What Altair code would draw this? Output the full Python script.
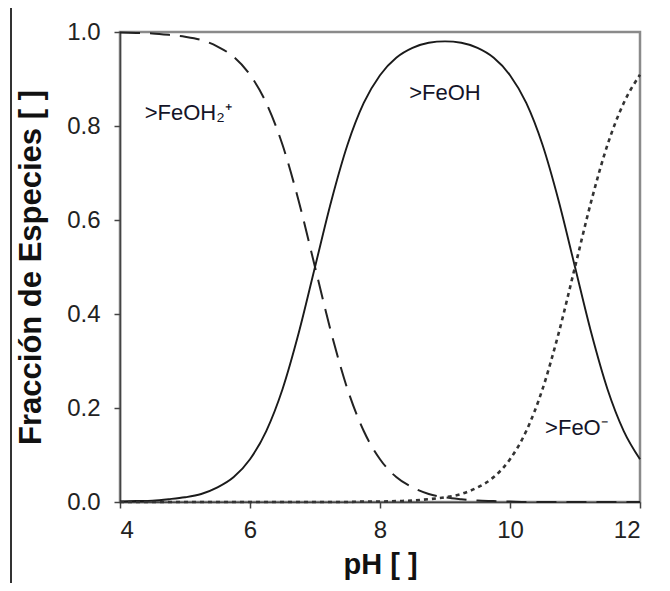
import altair as alt
import pandas as pd

ph = [4.0, 4.25, 4.5, 4.75, 5.0, 5.25, 5.5, 5.75, 6.0, 6.25, 6.5, 6.75, 7.0,
      7.25, 7.5, 7.75, 8.0, 8.25, 8.5, 8.75, 9.0, 9.25, 9.5, 9.75, 10.0,
      10.25, 10.5, 10.75, 11.0, 11.25, 11.5, 11.75, 12.0]

feoh2 = [0.999, 0.998, 0.997, 0.994, 0.990, 0.983, 0.969, 0.947, 0.909, 0.849, 0.760, 0.640, 0.500,
         0.360, 0.240, 0.151, 0.091, 0.053, 0.031, 0.017, 0.010, 0.006, 0.003, 0.002, 0.001,
         0.000, 0.000, 0.000, 0.000, 0.000, 0.000, 0.000, 0.000]

feoh = [0.001, 0.002, 0.003, 0.006, 0.010, 0.017, 0.031, 0.053, 0.091, 0.151, 0.240, 0.360, 0.500,
        0.640, 0.760, 0.849, 0.908, 0.945, 0.966, 0.977, 0.980, 0.977, 0.966, 0.945, 0.908,
        0.849, 0.760, 0.640, 0.500, 0.360, 0.240, 0.151, 0.091]

feo = [0.000, 0.000, 0.000, 0.000, 0.000, 0.000, 0.000, 0.000, 0.000, 0.000, 0.000, 0.000, 0.000,
       0.000, 0.000, 0.001, 0.001, 0.002, 0.003, 0.006, 0.010, 0.017, 0.031, 0.053, 0.091,
       0.151, 0.240, 0.360, 0.500, 0.640, 0.760, 0.849, 0.909]

label_text = [">FeOH\u2082\u207a", ">FeOH", ">FeO\u207b"]
label_x = [4.38, 9.0, 10.54]
label_y = [0.828, 0.87, 0.157]
label_align = ["left", "center", "left"]

x_ticks = [4, 6, 8, 10, 12]
y_ticks = [0.0, 0.2, 0.4, 0.6, 0.8, 1.0]

FONT = "Liberation Sans"

df = pd.DataFrame({"pH": ph, "FeOH2": feoh2, "FeOH": feoh, "FeO": feo})
lab = pd.DataFrame({"t": label_text, "x": label_x, "y": label_y, "a": label_align})

xs = alt.Scale(domain=[4, 12], nice=False, zero=False)
ys = alt.Scale(domain=[0, 1], nice=False)

xenc = alt.X("pH:Q", scale=xs,
             axis=alt.Axis(title="pH [ ]", values=x_ticks, format="d", titlePadding=8,
                           titleFontSize=29, labelPadding=10))
base = alt.Chart(df)

dashed = base.mark_line(color="#222", strokeWidth=2, strokeDash=[20, 10], interpolate="monotone").encode(
    x=xenc,
    y=alt.Y("FeOH2:Q", scale=ys,
            axis=alt.Axis(title="Fracción de Especies [ ]", values=y_ticks, format=".1f",
                          titlePadding=19, titleFontSize=31, labelPadding=14)),
)
solid = base.mark_line(color="#1a1a1a", strokeWidth=1.9, interpolate="monotone").encode(
    x=alt.X("pH:Q", scale=xs), y=alt.Y("FeOH:Q", scale=ys)
)
dotted = base.mark_line(color="#333", strokeWidth=2.6, strokeDash=[4, 4], interpolate="monotone").encode(
    x=alt.X("pH:Q", scale=xs), y=alt.Y("FeO:Q", scale=ys)
)

labels_left = alt.Chart(lab).transform_filter(alt.datum.a == "left").mark_text(
    align="left", baseline="middle", font=FONT, fontSize=22, color="#141428"
).encode(x=alt.X("x:Q", scale=xs), y=alt.Y("y:Q", scale=ys), text="t:N")
labels_center = alt.Chart(lab).transform_filter(alt.datum.a == "center").mark_text(
    align="center", baseline="middle", font=FONT, fontSize=22, color="#141428"
).encode(x=alt.X("x:Q", scale=xs), y=alt.Y("y:Q", scale=ys), text="t:N")

frame_df = pd.DataFrame({"k": [0]})
frame_v = alt.Chart(frame_df).mark_rule(color="#333", strokeWidth=2).encode(
    x=alt.value(-109), y=alt.value(-26), y2=alt.value(700)
)
frame_h = alt.Chart(frame_df).mark_rule(color="#333", strokeWidth=2).encode(
    x=alt.value(-109), x2=alt.value(700), y=alt.value(-26)
)

chart = alt.layer(frame_v, frame_h, dashed, solid, dotted, labels_left, labels_center).properties(
    width=520, height=470,
    autosize=alt.AutoSizeParams(type="none"),
    padding={"left": 112, "top": 24, "right": 22, "bottom": 81},
).configure_view(
    stroke="#8a8a8a", strokeWidth=2.5
).configure_axis(
    grid=False, domainColor="#444", domainWidth=1.5, tickColor="#444", tickWidth=1.5, tickSize=6,
    labelFont=FONT, labelFontSize=24, labelColor="#222",
    titleFont=FONT, titleFontWeight="bold", titleColor="#111"
)

chart.save("out.html", embed_options={"renderer": "svg", "actions": False})
